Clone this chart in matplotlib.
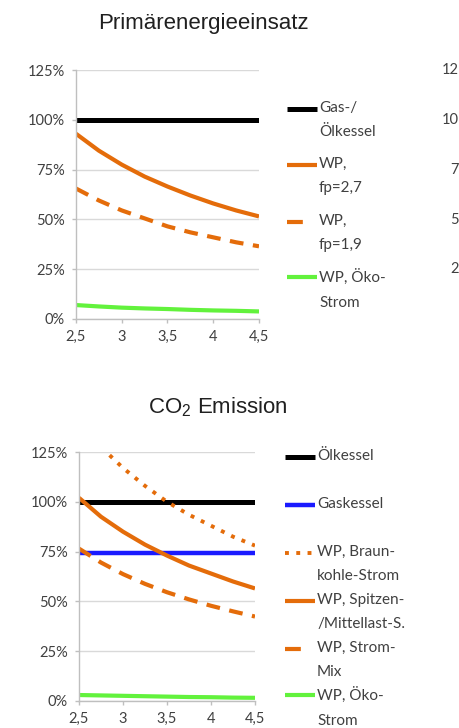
import matplotlib
matplotlib.use("Agg")
import matplotlib.pyplot as plt
from matplotlib.lines import Line2D

plt.rcParams['font.family'] = ['Lato', 'DejaVu Sans']
plt.rcParams['mathtext.fontset'] = 'custom'
plt.rcParams['mathtext.rm'] = 'Liberation Sans'

# Arbeitszahl (x axis) and relative values in percent
jaz = [2.5, 2.75, 3.0, 3.25, 3.5, 3.75, 4.0, 4.25, 4.5]

# Primärenergieeinsatz
pe_kessel = [100, 100, 100, 100, 100, 100, 100, 100, 100]
pe_wp_27 = [93, 84.5, 77.5, 71.5, 66.5, 62, 58, 54.5, 51.5]
pe_wp_19 = [65.5, 59.5, 54.5, 50.5, 46.5, 43.5, 41, 38.5, 36.5]
pe_wp_oeko = [7, 6.3, 5.7, 5.3, 5, 4.6, 4.3, 4.1, 3.8]

# CO2 Emission
co2_oel = [100, 100, 100, 100, 100, 100, 100, 100, 100]
co2_gas = [74.5, 74.5, 74.5, 74.5, 74.5, 74.5, 74.5, 74.5, 74.5]
co2_braun = [140, 127.5, 117, 108, 100, 93.5, 88, 82.5, 78]
co2_spitze = [102, 92.5, 85, 78.5, 73, 68, 64, 60, 56.5]
co2_mix = [76.5, 69.5, 63.7, 58.8, 54.6, 51, 47.8, 45, 42.4]
co2_oeko = [3, 2.8, 2.6, 2.4, 2.2, 2, 1.9, 1.7, 1.6]

y_ticks = [0, 25, 50, 75, 100, 125]
y_labels = ['0%', '25%', '50%', '75%', '100%', '125%']
x_ticks = [2.5, 3, 3.5, 4, 4.5]
x_labels = ['2,5', '3', '3,5', '4', '4,5']
# visible part of the neighbouring chart's tick labels at the right edge
edge_labels = ['12', '10', '7', '5', '2']

ORANGE = '#E46C0A'
GREEN = '#62F23C'
BLACK = '#000000'
BLUE = '#1A1AFF'
TXT = '#404040'

W, H = 460, 728
fig = plt.figure(figsize=(W / 100, H / 100), dpi=100)


def px_axes(left, top, right, bottom):
    return fig.add_axes([left / W, 1 - bottom / H, (right - left) / W, (bottom - top) / H])


def style_axes(ax):
    ax.set_xlim(2.5, 4.5)
    ax.set_ylim(0, 125)
    ax.set_yticks(y_ticks)
    ax.set_yticklabels(y_labels)
    ax.set_xticks(x_ticks)
    ax.set_xticklabels(x_labels)
    ax.grid(axis='y', color='#D9D9D9', lw=1.0)
    ax.set_axisbelow(True)
    for s in ['top', 'right']:
        ax.spines[s].set_visible(False)
    for s in ['left', 'bottom']:
        ax.spines[s].set_color('#BFBFBF')
        ax.spines[s].set_linewidth(1.0)
    ax.tick_params(axis='both', colors='#BFBFBF', length=3, width=1,
                   labelcolor=TXT, labelsize=10.5)
    ax.tick_params(axis='y', pad=5)
    ax.tick_params(axis='x', pad=5)


def legend(entries, x0, ys):
    for (label, kw), y in zip(entries, ys):
        fig.add_artist(Line2D([x0 / W, (x0 + 30) / W], [1 - y / H, 1 - y / H],
                              transform=fig.transFigure, **kw))
        fig.text((x0 + 32) / W, 1 - (y - 8) / H, label, fontsize=11, color=TXT,
                 va='top', ha='left', linespacing=1.95)


# --- Primärenergieeinsatz ---
ax1 = px_axes(76, 70, 259, 319)
style_axes(ax1)
s_black = dict(color=BLACK, lw=3.6, solid_capstyle='butt')
s_solid = dict(color=ORANGE, lw=3.0, solid_capstyle='butt')
s_dash = dict(color=ORANGE, lw=3.0, linestyle=(0, (3.3, 2.3)), dash_capstyle='butt')
s_dash_leg = dict(s_dash, linestyle=(0, (3.8, 10)))
s_green = dict(color=GREEN, lw=3.0, solid_capstyle='butt')
ax1.plot(jaz, pe_kessel, **s_black)
ax1.plot(jaz, pe_wp_27, **s_solid)
ax1.plot(jaz, pe_wp_19, **s_dash)
ax1.plot(jaz, pe_wp_oeko, **s_green)
fig.text(203 / W, 1 - 24 / H, 'Primärenergieeinsatz', fontsize=16, color='#202020',
         ha='center', va='center', family=['Liberation Sans', 'DejaVu Sans'])
legend([('Gas-/\nÖlkessel', s_black), ('WP,\nfp=2,7', s_solid),
        ('WP,\nfp=1,9', s_dash_leg), ('WP, Öko-\nStrom', s_green)],
       287, [109, 165, 222, 277])

# --- CO2 Emission ---
ax2 = px_axes(79, 452, 255, 701)
style_axes(ax2)
s_blue = dict(color=BLUE, lw=3.2, solid_capstyle='butt')
s_dot = dict(color=ORANGE, lw=2.8, linestyle=(0, (1, 1.9)), dash_capstyle='butt')
ax2.plot(jaz, co2_oel, **s_black)
ax2.plot(jaz, co2_gas, **s_blue)
ax2.plot(jaz, co2_braun, **s_dot)
ax2.plot(jaz, co2_spitze, **s_solid)
ax2.plot(jaz, co2_mix, **s_dash)
ax2.plot(jaz, co2_oeko, **s_green)
fig.text(218 / W, 1 - 407 / H, r'CO$_\mathregular{2}$ Emission', fontsize=16, color='#202020',
         ha='center', va='center', family=['Liberation Sans', 'DejaVu Sans'])
legend([('Ölkessel', s_black), ('Gaskessel', s_blue),
        ('WP, Braun-\nkohle-Strom', s_dot), ('WP, Spitzen-\n/Mittellast-S.', s_solid),
        ('WP, Strom-\nMix', s_dash_leg), ('WP, Öko-\nStrom', s_green)],
       285, [457, 505, 553, 601, 649, 695])

for yv, lab in zip([70, 120, 170, 220, 269], edge_labels):
    fig.text(459 / W, 1 - yv / H, lab, fontsize=10.5, color=TXT, ha='right', va='center')

fig.savefig('out.png', dpi=100)
